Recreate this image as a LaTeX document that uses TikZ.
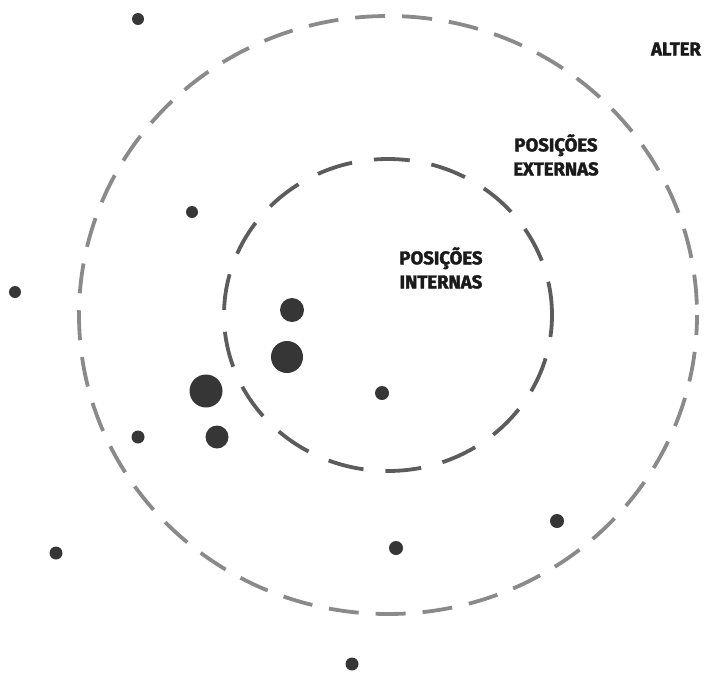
\documentclass[tikz,border=0pt]{standalone}
\usepackage{fontspec}
\setmainfont{Fira Sans}
\newfontfamily\heavyfont{Fira Sans}[BoldFeatures={FakeBold=2}]
\usetikzlibrary{positioning}
\definecolor{couter}{HTML}{8A8A8A}
\definecolor{cinner}{HTML}{5C5C5C}
\definecolor{cdot}{HTML}{363636}
\definecolor{ctext}{HTML}{1A1A1A}
\tikzset{
  every picture/.style={font=\bfseries},
  ring/.style={draw=#1, line width=3.8pt},
  outerring/.style={ring=couter, dash pattern=on 30pt off 17pt, dash phase=10pt},
  innerring/.style={ring=cinner, dash pattern=on 36pt off 22pt, dash phase=14pt},
  dot/.style={circle, fill=cdot, inner sep=0pt, minimum size=#1},
  dot/.default=12,
  label/.style={text=ctext, align=center, font=\heavyfont\bfseries\fontsize{18.5}{24}\selectfont},
}

\begin{document}
\begin{tikzpicture}[x=1pt, y=-1pt]
  \useasboundingbox (0,0) rectangle (704,672);
  \coordinate (centre) at (388,315);
  % rings
  \draw[outerring] (centre) ellipse [x radius=309, y radius=299];
  \draw[innerring] (centre) ellipse [x radius=164, y radius=156];
  % labels
  \node[label] (alter) at (676,49) {ALTER};
  \node[label] (ext) at (556,155) {POSIÇÕES\\EXTERNAS};
  \node[label] (int) at (441,268) {POSIÇÕES\\INTERNAS};
  % actors
  \node[dot] (a1) at (138,19) {};
  \node[dot] (a2) at (192,212) {};
  \node[dot] (a3) at (15,292) {};
  \node[dot=24] (a4) at (292,310) {};
  \node[dot=32] (a5) at (287,357) {};
  \node[dot=33] (a6) at (206,391) {};
  \node[dot=23] (a7) at (217,437) {};
  \node[dot=14] (a8) at (382,393) {};
  \node[dot=13] (a9) at (138,437) {};
  \node[dot=13] (a10) at (56,553) {};
  \node[dot=14] (a11) at (396,548) {};
  \node[dot=14] (a12) at (557,521) {};
  \node[dot=13] (a13) at (352,664) {};
\end{tikzpicture}
\end{document}
